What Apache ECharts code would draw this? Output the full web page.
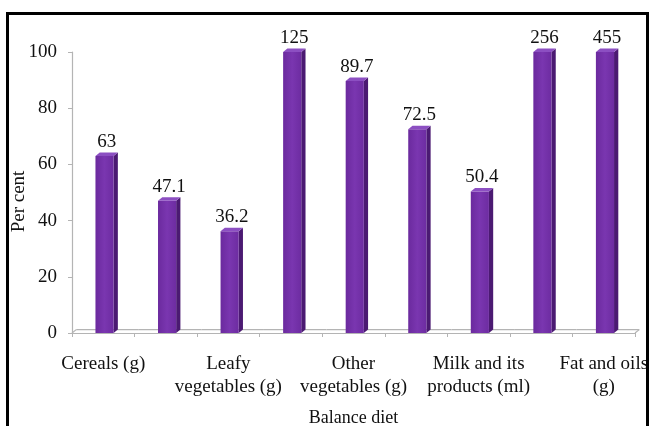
<!DOCTYPE html>
<html>
<head>
<meta charset="utf-8">
<script src="https://cdn.jsdelivr.net/npm/echarts@6/dist/echarts.min.js"></script>
<style>
  html, body { margin: 0; padding: 0; background: #ffffff; }
  #chart { width: 652px; height: 426px; }
</style>
</head>
<body>
<div id="chart"></div>
<script>
// Food groups of the balanced diet (every other name is printed on the axis)
const categories = [
  'Cereals (g)',
  'Pulses (g)',
  'Leafy\nvegetables (g)',
  'Roots and tubers (g)',
  'Other\nvegetables (g)',
  'Fruits (g)',
  'Milk and its\nproducts (ml)',
  'Sugar (g)',
  'Fat and oils\n(g)'
];
// Intake as per cent of the recommended amount
const percentValues = [63, 47.1, 36.2, 125, 89.7, 72.5, 50.4, 256, 455];
// Value axis ticks
const yTicks = [0, 20, 40, 60, 80, 100];

const Y_MIN = yTicks[0];
const Y_MAX = yTicks[yTicks.length - 1];
const Y_STEP = yTicks[1] - yTicks[0];
const FONT = '"Liberation Serif", "Times New Roman", serif';
const AXIS_GREY = '#b4b4b4';

const frontFill = new echarts.graphic.LinearGradient(0, 0, 1, 0, [
  { offset: 0, color: '#6b2a9e' },
  { offset: 0.5, color: '#7a36b0' },
  { offset: 1, color: '#6d2ca1' }
]);

// Draws one prism-shaped bar plus its piece of the raised floor.
function renderPrism(params, api) {
  const idx = api.value(0);
  const val = api.value(1);
  // bars taller than the axis stop at its top; the label keeps the true value
  const shown = Math.min(val, Y_MAX);
  const base = api.coord([idx, Y_MIN]);
  const top = api.coord([idx, shown]);
  const band = api.size([1, 0])[0];

  const faceW = band * 0.29;
  const depth = band * 0.068;
  const lift = depth * 0.8;
  const left = base[0] - faceW / 2 + band * 0.02;
  const right = left + faceW;
  const yTop = top[1];
  const yBase = base[1];
  const bandL = base[0] - band / 2;
  const bandR = base[0] + band / 2;

  const floorStyle = { stroke: AXIS_GREY, lineWidth: 1.2 };
  const children = [];

  // back edge of the floor
  children.push({
    type: 'line',
    shape: { x1: bandL + depth, y1: yBase - lift, x2: bandR + depth, y2: yBase - lift },
    style: floorStyle
  });
  if (params.dataIndex === 0) {
    children.push({
      type: 'line',
      shape: { x1: bandL, y1: yBase, x2: bandL + depth, y2: yBase - lift },
      style: floorStyle
    });
  }
  if (params.dataIndex === categories.length - 1) {
    children.push({
      type: 'line',
      shape: { x1: bandR, y1: yBase, x2: bandR + depth, y2: yBase - lift },
      style: floorStyle
    });
  }

  // side face
  children.push({
    type: 'polygon',
    shape: { points: [[right, yTop], [right + depth, yTop - lift], [right + depth, yBase - lift], [right, yBase]] },
    style: { fill: '#4b1a72' }
  });
  // front face
  children.push({
    type: 'rect',
    shape: { x: left, y: yTop, width: faceW, height: yBase - yTop },
    style: { fill: frontFill }
  });
  // top face
  children.push({
    type: 'polygon',
    shape: { points: [[left, yTop], [left + depth, yTop - lift], [right + depth, yTop - lift], [right, yTop]] },
    style: { fill: '#8c4fc2' }
  });
  // value label
  children.push({
    type: 'text',
    x: (left + right + depth) / 2,
    y: yTop - lift - 1,
    style: {
      text: String(val),
      font: '19px ' + FONT,
      fill: '#111111',
      align: 'center',
      verticalAlign: 'bottom'
    }
  });

  return { type: 'group', children: children };
}

const chart = echarts.init(document.getElementById('chart'), null, { renderer: 'canvas' });

chart.setOption({
  animation: false,
  backgroundColor: '#ffffff',
  grid: { left: 72, right: 17, top: 52, bottom: 93, outerBoundsMode: 'none', containLabel: false },
  xAxis: {
    type: 'category',
    data: categories,
    boundaryGap: true,
    name: 'Balance diet',
    nameLocation: 'middle',
    nameGap: 76,
    nameMoveOverlap: false,
    nameTextStyle: { fontFamily: FONT, fontSize: 18, color: '#111111' },
    axisLine: { show: true, lineStyle: { color: AXIS_GREY, width: 1.2 } },
    axisTick: { show: true, interval: 0, alignWithLabel: false, length: 4, lineStyle: { color: AXIS_GREY } },
    axisLabel: {
      interval: 1,
      margin: 20,
      fontFamily: FONT,
      fontSize: 19,
      lineHeight: 23,
      color: '#111111'
    },
    splitLine: { show: false }
  },
  yAxis: {
    type: 'value',
    min: Y_MIN,
    max: Y_MAX,
    interval: Y_STEP,
    name: 'Per cent',
    nameLocation: 'middle',
    nameGap: 43,
    nameMoveOverlap: false,
    nameTextStyle: { fontFamily: FONT, fontSize: 19, color: '#111111', padding: [0, 18, 0, 0] },
    axisLine: { show: true, lineStyle: { color: AXIS_GREY, width: 1.2 } },
    axisTick: { show: true, length: 4, lineStyle: { color: AXIS_GREY } },
    axisLabel: { margin: 15, fontFamily: FONT, fontSize: 19, color: '#111111' },
    splitLine: { show: false }
  },
  series: [{
    type: 'custom',
    clip: false,
    renderItem: renderPrism,
    encode: { x: 0, y: 1 },
    data: percentValues.map(function (v, i) { return [i, v]; })
  }],
  graphic: [{
    type: 'rect',
    z: 100,
    silent: true,
    shape: { x: 7.5, y: 13.5, width: 640, height: 440 },
    style: { fill: 'none', stroke: '#000000', lineWidth: 3 }
  }]
});
</script>
</body>
</html>
